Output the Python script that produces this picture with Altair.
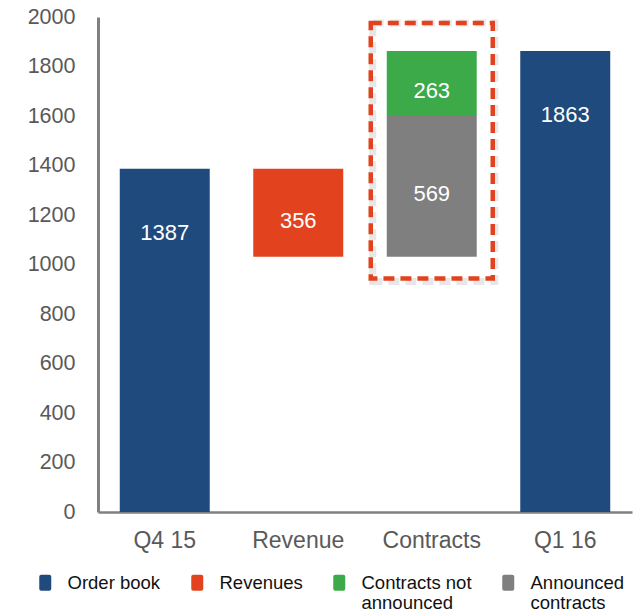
import altair as alt
import pandas as pd

# ---- data ----
x_order = ["Q4 15", "Revenue", "Contracts", "Q1 16"]
categories = ["Q4 15", "Revenue", "Contracts", "Contracts", "Q1 16"]
series = ["Order book", "Revenues", "Announced contracts", "Contracts not announced", "Order book"]
values = [1387, 356, 569, 263, 1863]
kinds = ["total", "step", "step", "step", "total"]
legend_order = ["Order book", "Revenues", "Contracts not announced", "Announced contracts"]
colors = ["#1F4A7D", "#E2431E", "#3DAA4A", "#7F7F7F"]
y_ticks = list(range(0, 2001, 200))
box_low, box_high = 943, 1976  # dashed highlight box (data units)

# waterfall bases
start = values[0]
rev_base = start - values[1]
lows = [0, rev_base, rev_base, rev_base + values[2], 0]
highs = [start, start, rev_base + values[2], rev_base + values[2] + values[3], values[4]]

df = pd.DataFrame({
    "cat": categories, "series": series, "value": values, "kind": kinds,
    "low": lows, "high": highs,
})
df["mid"] = (df["low"] + df["high"]) / 2
box_df = pd.DataFrame({"cat": ["Contracts"], "low": [box_low], "high": [box_high]})

FONT = "Liberation Sans"

x_enc = alt.X("cat:N", sort=x_order,
              scale=alt.Scale(domain=x_order, paddingInner=0.326, paddingOuter=0.163),
              axis=alt.Axis(title=None, labelAngle=0, labelFontSize=23, labelPadding=17,
                            ticks=False, domainColor="#808080", domainWidth=2.5,
                            labelColor="#595959", labelFont=FONT))
y_scale = alt.Scale(domain=[0, 2000], nice=False)

sym_path = ("M-0.5,-1 H0.5 Q0.75,-1 0.75,-0.75 V0.75 Q0.75,1 0.5,1 H-0.5 "
            "Q-0.75,1 -0.75,0.75 V-0.75 Q-0.75,-1 -0.5,-1 Z")

legend = alt.Legend(
    title=None, orient="none", legendX=-62, legendY=556, direction="horizontal",
    columns=4, symbolType=sym_path, symbolSize=256, symbolStrokeWidth=0,
    labelFontSize=18.5, labelFont=FONT, labelColor="#111111", labelOffset=13,
    columnPadding=27, labelLimit=300, labelBaseline="middle",
    labelExpr=("datum.label == 'Contracts not announced' ? ['Contracts not', 'announced'] : "
               "datum.label == 'Announced contracts' ? ['Announced', 'contracts'] : [datum.label, '']"),
)

bars = alt.Chart(df).mark_bar().encode(
    x=x_enc,
    y=alt.Y("low:Q", scale=y_scale,
            axis=alt.Axis(title=None, values=y_ticks, format="d", labelFontSize=21.5,
                          labelPadding=23, ticks=False, grid=False, domainColor="#808080",
                          domainWidth=3, labelColor="#595959", labelFont=FONT)),
    y2="high:Q",
    color=alt.Color("series:N", scale=alt.Scale(domain=legend_order, range=colors),
                    legend=legend),
)

total_labels = alt.Chart(df).transform_filter("datum.kind == 'total'").mark_text(
    color="white", fontSize=22, font=FONT, baseline="middle", dy=64
).encode(x=alt.X("cat:N", sort=x_order), y=alt.Y("high:Q", scale=y_scale), text="value:Q")

step_labels = alt.Chart(df).transform_filter("datum.kind == 'step'").mark_text(
    color="white", fontSize=22, font=FONT, baseline="middle", dy=8
).encode(x=alt.X("cat:N", sort=x_order), y=alt.Y("mid:Q", scale=y_scale), text="value:Q")

shadow = alt.Chart(box_df).mark_bar(
    fillOpacity=0, stroke="#b0b0b0", strokeOpacity=0.3, strokeWidth=7,
    strokeDash=[11, 6], size=122, xOffset=2, yOffset=3
).encode(x=alt.X("cat:N", sort=x_order), y=alt.Y("low:Q", scale=y_scale), y2="high:Q")

box = alt.Chart(box_df).mark_bar(
    fillOpacity=0, stroke="#E2431E", strokeWidth=4.5, strokeDash=[11, 6], size=122
).encode(x=alt.X("cat:N", sort=x_order), y=alt.Y("low:Q", scale=y_scale), y2="high:Q")

chart = alt.layer(bars, total_labels, step_labels, shadow, box).properties(
    width=534, height=495,
    autosize=alt.AutoSizeParams(type="none"),
    padding={"left": 90, "top": 9, "right": 3, "bottom": 103},
).configure_view(stroke=None)

chart.save("out.html", embed_options={"renderer": "svg", "actions": False})
